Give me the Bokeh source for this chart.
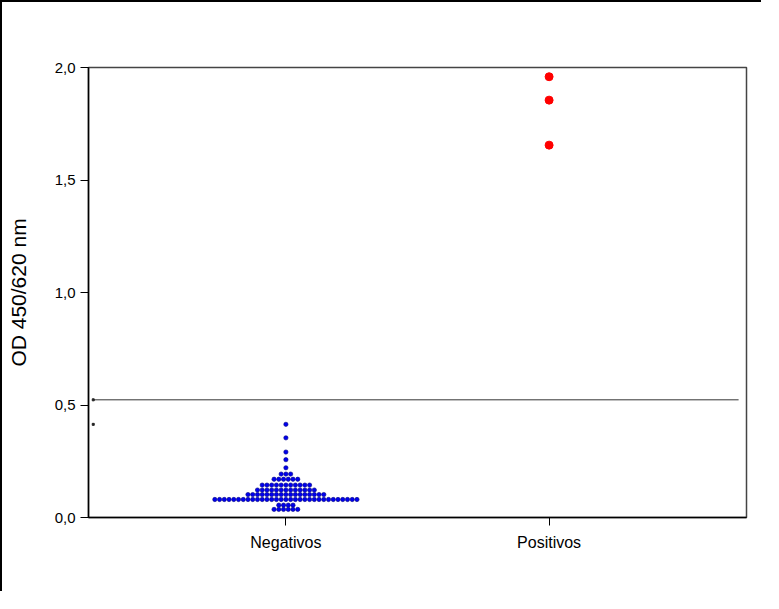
import numpy as np
from bokeh.plotting import figure
from bokeh.models import FixedTicker, CustomJSTickFormatter, Range1d
from bokeh.embed import file_html
from bokeh.resources import INLINE

# ---- data ----
categories = ["Negativos", "Positivos"]
neg_levels = [0.036, 0.055, 0.080, 0.102, 0.122, 0.144, 0.170, 0.193,
              0.221, 0.257, 0.291, 0.354, 0.414]
neg_counts = [6, 4, 31, 17, 13, 11, 6, 3, 1, 1, 1, 1, 1]
pos_values = [1.959, 1.855, 1.655]
cutoff = 0.523
y_ticks = [0.0, 0.5, 1.0, 1.5, 2.0]

# dot-plot layout: spread equal values side by side around the category
step = 0.018
neg_x, neg_y = [], []
for lv, n in zip(neg_levels, neg_counts):
    for i in range(n):
        neg_x.append(1 + (i - (n - 1) / 2) * step)
        neg_y.append(lv)
pos_x = [2] * len(pos_values)

FONT = "Liberation Sans"

p = figure(width=761, height=591, output_backend="svg", toolbar_location=None,
           x_range=Range1d(0.25, 2.75), y_range=Range1d(0, 2.0),
           min_border_left=86, min_border_top=65, min_border_right=17,
           min_border_bottom=76)
p.styles = {"border-left": "2px solid black", "border-top": "2px solid black"}

p.grid.visible = False
p.outline_line_color = "#444444"
p.outline_line_width = 1.5

# threshold line
x0 = p.x_range.start + 0.018
x1 = p.x_range.end - 0.03
p.line([x0, x1], [cutoff, cutoff], line_color="#333333", line_width=1)
p.scatter([x0, x0], [cutoff, max(neg_levels)], size=2, marker="square",
          color="#222222")

# points
p.scatter(neg_x, neg_y, size=4.3, fill_color="#0000ee", line_color="#000080",
          line_width=0.6)
p.scatter(pos_x, pos_values, size=8, fill_color="#ff0000", line_color="#ff0000")

# axes
p.yaxis.ticker = FixedTicker(ticks=y_ticks)
p.yaxis.formatter = CustomJSTickFormatter(code="return tick.toFixed(1).replace('.', ',');")
p.xaxis.ticker = FixedTicker(ticks=[1, 2])
p.xaxis.formatter = CustomJSTickFormatter(args=dict(cats=categories),
                                          code="return cats[Math.round(tick) - 1];")
for ax in (p.xaxis, p.yaxis):
    ax.major_tick_in = 0
    ax.major_tick_out = 8
    ax.minor_tick_line_color = None
    ax.major_label_text_font = FONT
    ax.major_label_text_color = "#000000"
    ax.axis_line_color = "#000000"
    ax.axis_line_width = 1.5
    ax.major_tick_line_color = "#000000"
p.yaxis.major_label_text_font_size = "15px"
p.xaxis.major_label_text_font_size = "16px"
p.yaxis.major_label_standoff = 5
p.xaxis.major_label_standoff = 8
p.yaxis.axis_label = "OD 450/620 nm"
p.yaxis.axis_label_text_font = FONT
p.yaxis.axis_label_text_font_style = "normal"
p.yaxis.axis_label_text_font_size = "21px"
p.yaxis.axis_label_text_color = "#000000"
p.yaxis.axis_label_standoff = 22

open("out.html", "w").write(file_html(p, INLINE))
